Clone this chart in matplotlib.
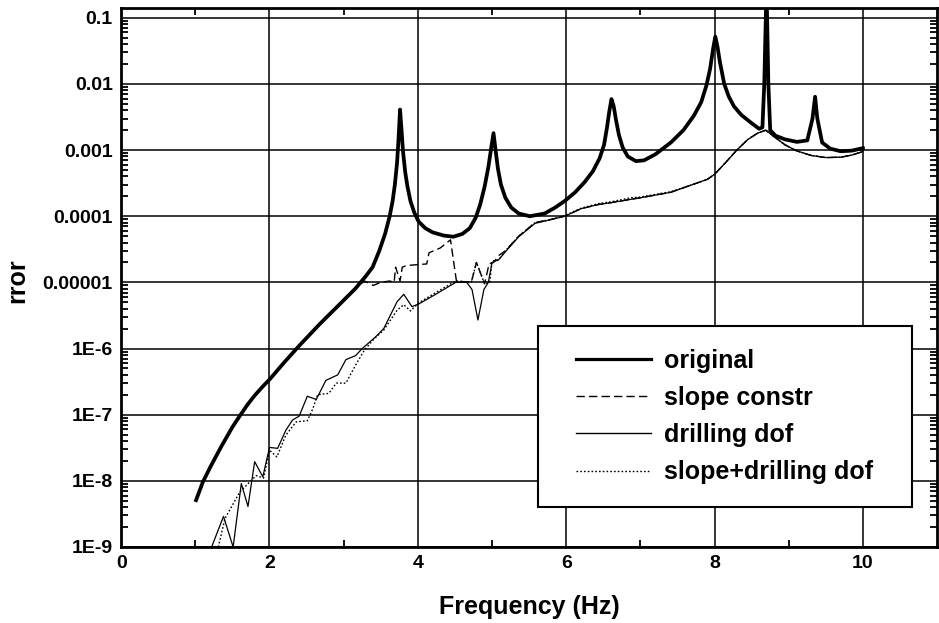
import matplotlib
matplotlib.use('Agg')
import matplotlib.pyplot as plt
from matplotlib.ticker import FixedLocator, NullFormatter, LogLocator
from matplotlib.legend_handler import HandlerLine2D

# --- data ---
f_orig = [1.01, 1.10, 1.20, 1.35, 1.50, 1.60, 1.70, 1.80, 1.90, 2.00, 2.20, 2.40,
          2.67, 2.94, 3.16, 3.30, 3.39, 3.48, 3.56, 3.62, 3.66, 3.69, 3.72, 3.74,
          3.76, 3.78, 3.80, 3.83, 3.86, 3.90, 3.95, 4.01, 4.10, 4.20, 4.35, 4.48,
          4.60, 4.70, 4.78, 4.84, 4.90, 4.95, 4.99, 5.02, 5.05, 5.08, 5.12, 5.18,
          5.26, 5.36, 5.51, 5.71, 5.85, 5.98, 6.12, 6.25, 6.36, 6.45, 6.51, 6.55,
          6.58, 6.61, 6.64, 6.67, 6.71, 6.76, 6.83, 6.94, 7.05, 7.20, 7.41, 7.58,
          7.72, 7.82, 7.89, 7.94, 7.98, 8.01, 8.04, 8.07, 8.13, 8.19, 8.26, 8.36,
          8.49, 8.60, 8.645, 8.67, 8.70, 8.725, 8.75, 8.82, 8.95, 9.11, 9.25, 9.32,
          9.355, 9.385, 9.45, 9.56, 9.70, 9.85, 10.0]
e_orig = [5.1e-9, 9.5e-9, 1.6e-8, 3.3e-8, 6.5e-8, 9.6e-8, 1.4e-7, 1.95e-7, 2.6e-7,
          3.4e-7, 6.2e-7, 1.1e-6, 2.3e-6, 4.6e-6, 8.1e-6, 1.25e-5, 1.7e-5, 3.0e-5,
          5.5e-5, 1.0e-4, 1.7e-4, 3.0e-4, 6.5e-4, 1.5e-3, 4.1e-3, 2.0e-3, 9.5e-4,
          4.6e-4, 2.8e-4, 1.7e-4, 1.15e-4, 8.3e-5, 6.6e-5, 5.7e-5, 5.1e-5, 4.9e-5,
          5.4e-5, 6.6e-5, 9.5e-5, 1.5e-4, 2.8e-4, 5.5e-4, 1.1e-3, 1.8e-3, 9.5e-4,
          5.2e-4, 3.0e-4, 1.9e-4, 1.35e-4, 1.1e-4, 1.0e-4, 1.1e-4, 1.35e-4, 1.7e-4,
          2.3e-4, 3.3e-4, 4.8e-4, 7.5e-4, 1.2e-3, 2.2e-3, 3.8e-3, 5.9e-3, 4.6e-3,
          2.9e-3, 1.7e-3, 1.1e-3, 8.0e-4, 6.8e-4, 7.0e-4, 8.6e-4, 1.3e-3, 2.0e-3,
          3.3e-3, 5.3e-3, 9.5e-3, 1.7e-2, 3.4e-2, 5.2e-2, 3.6e-2, 2.2e-2, 1.0e-2,
          6.5e-3, 4.6e-3, 3.4e-3, 2.6e-3, 2.1e-3, 2.2e-3, 1.0e-2, 0.3, 1.0e-2,
          2.0e-3, 1.65e-3, 1.45e-3, 1.33e-3, 1.4e-3, 3.0e-3, 6.4e-3, 3.0e-3, 1.3e-3,
          1.05e-3, 9.6e-4, 9.8e-4, 1.07e-3]

f_slope = [1.01, 1.10, 1.20, 1.35, 1.50, 1.60, 1.70, 1.80, 1.90, 2.00, 2.20, 2.40,
           2.67, 2.94, 3.16, 3.28, 3.40, 3.50, 3.62, 3.68, 3.70, 3.76, 3.79, 3.85,
           4.12, 4.15, 4.30, 4.44, 4.52, 4.72, 4.79, 4.90, 4.96, 5.02, 5.10, 5.18,
           5.36, 5.58, 5.80, 5.98, 6.20, 6.43, 6.60, 6.87, 7.00, 7.41, 7.70, 7.90,
           8.00, 8.15, 8.30, 8.45, 8.58, 8.69, 8.80, 8.95, 9.10, 9.30, 9.50, 9.70,
           9.85, 10.0]
e_slope = [5.1e-9, 9.5e-9, 1.6e-8, 3.3e-8, 6.5e-8, 9.6e-8, 1.4e-7, 1.95e-7, 2.6e-7,
           3.4e-7, 6.2e-7, 1.1e-6, 2.3e-6, 4.6e-6, 8.1e-6, 1.05e-5, 9.0e-6, 1.0e-5,
           1.05e-5, 1.0e-5, 1.7e-5, 1.05e-5, 1.7e-5, 1.8e-5, 1.9e-5, 2.8e-5, 3.3e-5,
           4.4e-5, 1.05e-5, 1.0e-5, 2.0e-5, 9.5e-6, 1.9e-5, 2.0e-5, 2.6e-5, 3.0e-5,
           5.0e-5, 8.0e-5, 9.0e-5, 1.0e-4, 1.3e-4, 1.5e-4, 1.6e-4, 1.8e-4, 1.9e-4,
           2.3e-4, 3.0e-4, 3.6e-4, 4.3e-4, 6.5e-4, 1.0e-3, 1.45e-3, 1.8e-3, 2.0e-3,
           1.6e-3, 1.2e-3, 9.8e-4, 8.3e-4, 7.7e-4, 7.8e-4, 8.4e-4, 9.5e-4]

f_drill = [1.22, 1.38, 1.51, 1.62, 1.71, 1.80, 1.91, 2.00, 2.11, 2.22, 2.31, 2.40,
           2.51, 2.63, 2.76, 2.92, 3.03, 3.16, 3.25, 3.43, 3.54, 3.72, 3.81, 3.92,
           4.01, 4.24, 4.51, 4.66, 4.73, 4.81, 4.89, 4.95, 5.00, 5.09, 5.18, 5.36,
           5.58, 5.80, 5.98, 6.20, 6.43, 6.60, 6.87, 7.00, 7.41, 7.70, 7.90, 8.00,
           8.15, 8.30, 8.45, 8.58, 8.69, 8.80, 8.95, 9.10, 9.30, 9.50, 9.70, 9.85,
           10.0]
e_drill = [1.0e-9, 2.9e-9, 1.0e-9, 9.1e-9, 4.1e-9, 1.95e-8, 1.15e-8, 3.2e-8, 3.1e-8,
           5.8e-8, 8.3e-8, 9.5e-8, 1.9e-7, 1.7e-7, 3.3e-7, 4.0e-7, 6.8e-7, 7.8e-7,
           1.0e-6, 1.5e-6, 2.0e-6, 5.1e-6, 6.6e-6, 4.3e-6, 4.7e-6, 6.6e-6, 1.0e-5,
           1.0e-5, 7.8e-6, 2.7e-6, 7.8e-6, 1.0e-5, 2.0e-5, 2.2e-5, 2.9e-5, 4.9e-5,
           7.8e-5, 8.9e-5, 1.0e-4, 1.3e-4, 1.5e-4, 1.6e-4, 1.8e-4, 1.9e-4, 2.3e-4,
           3.0e-4, 3.6e-4, 4.3e-4, 6.5e-4, 1.0e-3, 1.45e-3, 1.8e-3, 2.0e-3, 1.6e-3,
           1.2e-3, 9.8e-4, 8.3e-4, 7.7e-4, 7.8e-4, 8.4e-4, 9.5e-4]

f_both = [1.31, 1.40, 1.60, 1.82, 1.92, 2.00, 2.10, 2.22, 2.36, 2.51, 2.58, 2.65,
          2.80, 2.90, 3.03, 3.16, 3.28, 3.41, 3.54, 3.72, 3.81, 3.90, 4.01, 4.24,
          4.51, 4.66, 4.72, 4.79, 4.90, 4.97, 5.00, 5.09, 5.18, 5.36, 5.58, 5.80,
          5.98, 6.20, 6.43, 6.60, 6.87, 7.00, 7.41, 7.70, 7.90, 8.00, 8.15, 8.30,
          8.45, 8.58, 8.69, 8.80, 8.95, 9.10, 9.30, 9.50, 9.70, 9.85, 10.0]
e_both = [1.0e-9, 2.7e-9, 6.8e-9, 1.2e-8, 1.1e-8, 2.9e-8, 2.3e-8, 4.9e-8, 7.8e-8,
          8.1e-8, 1.2e-7, 2.0e-7, 2.1e-7, 3.0e-7, 3.0e-7, 5.6e-7, 9.5e-7, 1.4e-6,
          1.9e-6, 3.8e-6, 4.6e-6, 3.7e-6, 4.9e-6, 7.0e-6, 1.05e-5, 1.02e-5, 1.0e-5,
          2.0e-5, 9.5e-6, 1.0e-5, 2.1e-5, 2.2e-5, 3.0e-5, 5.0e-5, 8.0e-5, 9.0e-5,
          1.02e-4, 1.32e-4, 1.55e-4, 1.65e-4, 1.9e-4, 1.95e-4, 2.35e-4, 3.0e-4,
          3.6e-4, 4.3e-4, 6.5e-4, 1.0e-3, 1.45e-3, 1.8e-3, 2.0e-3, 1.6e-3, 1.2e-3,
          9.8e-4, 8.3e-4, 7.7e-4, 7.8e-4, 8.4e-4, 9.5e-4]

ytick_vals = [1e-9, 1e-8, 1e-7, 1e-6, 1e-5, 1e-4, 1e-3, 1e-2, 1e-1]
ytick_labels = ['1E-9', '1E-8', '1E-7', '1E-6', '0.00001', '0.0001', '0.001', '0.01', '0.1']
xtick_vals = [0, 2, 4, 6, 8, 10]


class OffsetLine(HandlerLine2D):
    # legend line that starts a little right of the handle box
    def __init__(self, shift, **kw):
        super().__init__(**kw)
        self.shift = shift

    def create_artists(self, legend, orig_handle, xdescent, ydescent, width, height, fontsize, trans):
        return super().create_artists(legend, orig_handle, xdescent - self.shift, ydescent,
                                      width - self.shift, height, fontsize, trans)


plt.rcParams['font.family'] = ['Liberation Sans', 'DejaVu Sans']

fig = plt.figure(figsize=(9.39, 6.23), dpi=100)
ax = fig.add_axes([0.129, 0.122, 0.869, 0.865])

l1, = ax.plot(f_orig, e_orig, color='black', lw=2.7, label='original', zorder=4)
l2, = ax.plot(f_slope, e_slope, color='black', lw=1.0, ls=(0, (6, 3)), label='slope constr', zorder=3)
l3, = ax.plot(f_drill, e_drill, color='black', lw=0.9, label='drilling dof', zorder=3)
l4, = ax.plot(f_both, e_both, color='black', lw=1.0, ls=(0, (1.2, 1.5)), label='slope+drilling dof', zorder=3)

ax.set_yscale('log')
ax.set_xlim(0, 11)
ax.set_ylim(1e-9, 0.14)

ax.set_xticks(xtick_vals)
ax.set_xticklabels([str(v) for v in xtick_vals])
ax.xaxis.set_minor_locator(FixedLocator([1, 3, 5, 7, 9]))
ax.set_yticks(ytick_vals)
ax.set_yticklabels(ytick_labels)
ax.yaxis.set_minor_locator(LogLocator(base=10, subs=range(2, 10), numticks=20))
ax.yaxis.set_minor_formatter(NullFormatter())

ax.tick_params(which='both', direction='in', top=True, right=True, color='black')
ax.tick_params(which='major', length=0, labelsize=14, pad=6)
ax.tick_params(which='minor', length=5, width=1.3)
for lab in ax.get_xticklabels() + ax.get_yticklabels():
    lab.set_fontweight('bold')

ax.grid(True, which='major', color='black', lw=1.1)
for s in ax.spines.values():
    s.set_linewidth(2.0)

ax.set_xlabel('Frequency (Hz)', fontsize=18, fontweight='bold', labelpad=16)
ax.set_ylabel('rror', fontsize=18, fontweight='bold')
ax.yaxis.set_label_coords(-0.112, 0.494)

shift = 11.2  # points
leg = ax.legend(handles=[l1, l2, l3, l4], loc='upper left',
                bbox_to_anchor=(0.511, 0.078, 0.458, 0.332), mode='expand',
                prop={'weight': 'bold', 'size': 18}, frameon=True, fancybox=False,
                edgecolor='black', framealpha=1, handlelength=3.62, handletextpad=0.52,
                labelspacing=0.53, borderpad=0.9, borderaxespad=0,
                handler_map={h: OffsetLine(shift) for h in [l1, l2, l3, l4]})
leg.get_frame().set_linewidth(1.5)
for h in leg.get_lines():
    h.set_linewidth(1.0)
leg.get_lines()[0].set_linewidth(2.3)

fig.savefig('out.png', dpi=100)
